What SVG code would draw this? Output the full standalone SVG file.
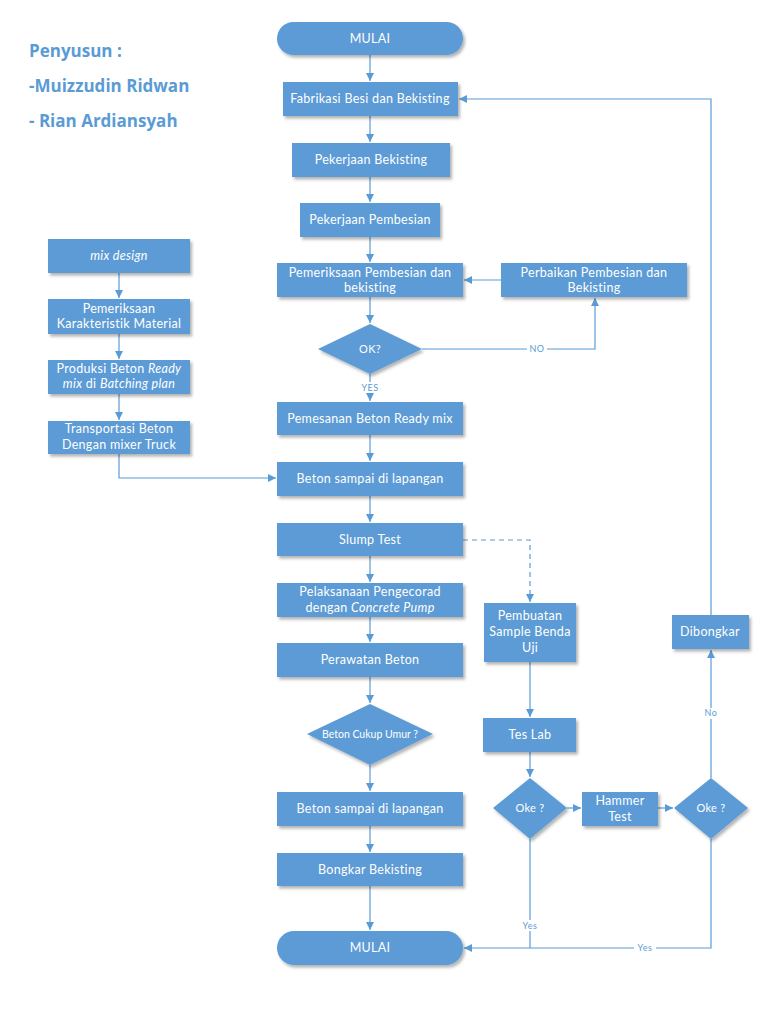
<svg xmlns="http://www.w3.org/2000/svg" width="768" height="1024" viewBox="0 0 768 1024">
<style>
.bx{fill:#5b9bd5;filter:url(#sh)}
.t{font-family:Lato,"Open Sans","Liberation Sans",sans-serif;font-size:12.5px;letter-spacing:0.3px;fill:#fff;text-anchor:middle}
.i{font-style:italic}
.ln{fill:none;stroke:#5b9bd5;stroke-width:1.2}
.dash{stroke-dasharray:5,4}
.lb{font-family:Lato,"Open Sans","Liberation Sans",sans-serif;font-size:9px;letter-spacing:0.5px;fill:#5b9bd5;text-anchor:middle}
.lbg{fill:#fff}
.hd{font-family:"Open Sans","Liberation Sans",sans-serif;font-size:17px;font-weight:bold;fill:#5b9bd5}
</style>
<defs>
<filter id="sh" x="-10%" y="-20%" width="125%" height="150%">
<feDropShadow dx="2" dy="2.5" stdDeviation="1.5" flood-color="#000" flood-opacity="0.3"/>
</filter>
<marker id="ar" viewBox="0 0 10 10" refX="10" refY="5" markerWidth="8" markerHeight="8" markerUnits="userSpaceOnUse" orient="auto">
<path d="M0,0 L10,5 L0,10 z" fill="#5b9bd5"/>
</marker>
</defs>
<rect width="768" height="1024" fill="#fff"/>

<g id="authors">
<text class="hd" x="29" y="57">Penyusun :</text>
<text class="hd" x="29" y="92">-Muizzudin Ridwan</text>
<text class="hd" x="29" y="127">- Rian Ardiansyah</text>
</g>

<g id="connectors">
<path class="ln" d="M370,55 V81" marker-end="url(#ar)"/>
<path class="ln" d="M370,116 V142" marker-end="url(#ar)"/>
<path class="ln" d="M370,177 V202" marker-end="url(#ar)"/>
<path class="ln" d="M370,237 V262" marker-end="url(#ar)"/>
<path class="ln" d="M370,297 V323" marker-end="url(#ar)"/>
<path class="ln" d="M370,374 V401" marker-end="url(#ar)"/>
<path class="ln" d="M422,349 H595 V298" marker-end="url(#ar)"/>
<path class="ln" d="M501,280 H464" marker-end="url(#ar)"/>
<path class="ln" d="M370,435 V461" marker-end="url(#ar)"/>
<path class="ln" d="M119,273 V298" marker-end="url(#ar)"/>
<path class="ln" d="M119,334 V359" marker-end="url(#ar)"/>
<path class="ln" d="M119,394 V420" marker-end="url(#ar)"/>
<path class="ln" d="M119,454 V478 H276" marker-end="url(#ar)"/>
<path class="ln" d="M370,496 V522" marker-end="url(#ar)"/>
<path class="ln" d="M370,556 V582" marker-end="url(#ar)"/>
<path class="ln" d="M370,617 V642" marker-end="url(#ar)"/>
<path class="ln" d="M370,677 V703" marker-end="url(#ar)"/>
<path class="ln" d="M370,765 V791" marker-end="url(#ar)"/>
<path class="ln" d="M370,826 V852" marker-end="url(#ar)"/>
<path class="ln" d="M370,886 V930" marker-end="url(#ar)"/>
<path class="ln dash" d="M463,540 H530 V602" marker-end="url(#ar)"/>
<path class="ln" d="M530,662 V717" marker-end="url(#ar)"/>
<path class="ln" d="M530,752 V777" marker-end="url(#ar)"/>
<path class="ln" d="M567,808 H581" marker-end="url(#ar)"/>
<path class="ln" d="M658,808 H673" marker-end="url(#ar)"/>
<path class="ln" d="M711,778 V650" marker-end="url(#ar)"/>
<path class="ln" d="M711,615 V99 H459" marker-end="url(#ar)"/>
<path class="ln" d="M530,839 V948"/>
<path class="ln" d="M711,839 V948 H464" marker-end="url(#ar)"/>
<rect class="lbg" x="361" y="382" width="18" height="11"/>
<text class="lb" x="370" y="391">YES</text>
<rect class="lbg" x="527" y="344" width="20" height="11"/>
<text class="lb" x="537" y="352">NO</text>
<rect class="lbg" x="702" y="708" width="18" height="11"/>
<text class="lb" x="711" y="716">No</text>
<rect class="lbg" x="519" y="920" width="22" height="11"/>
<text class="lb" x="530" y="929">Yes</text>
<rect class="lbg" x="634" y="943" width="22" height="11"/>
<text class="lb" x="645" y="951">Yes</text>
</g>

<g id="mulai1"><rect class="bx" x="277" y="22" width="186" height="33" rx="16.5"/><text class="t" x="370" y="43">MULAI</text></g>
<g id="fabrikasi"><rect class="bx" x="283" y="82" width="175" height="34"/><text class="t" x="370" y="103">Fabrikasi Besi dan Bekisting</text></g>
<g id="pek-bekisting"><rect class="bx" x="292" y="143" width="158" height="34"/><text class="t" x="371" y="164">Pekerjaan Bekisting</text></g>
<g id="pek-pembesian"><rect class="bx" x="300" y="203" width="140" height="34"/><text class="t" x="370" y="224">Pekerjaan Pembesian</text></g>
<g id="pemeriksaan"><rect class="bx" x="277" y="263" width="186" height="34"/><text class="t" x="370" y="277">Pemeriksaan Pembesian dan</text><text class="t" x="370" y="292">bekisting</text></g>
<g id="perbaikan"><rect class="bx" x="501" y="263" width="186" height="34"/><text class="t" x="594" y="277">Perbaikan Pembesian dan</text><text class="t" x="594" y="292">Bekisting</text></g>
<g id="ok"><path class="bx" d="M370,324 L422,349 L370,374 L318,349 z"/><text class="t" x="370" y="353" style="font-size:11px">OK?</text></g>
<g id="pemesanan"><rect class="bx" x="277" y="402" width="186" height="33"/><text class="t" x="370" y="423">Pemesanan Beton Ready mix</text></g>

<g id="mix-design"><rect class="bx" x="48" y="239" width="142" height="34"/><text class="t i" x="119" y="260">mix design</text></g>
<g id="karakteristik"><rect class="bx" x="48" y="299" width="142" height="35"/><text class="t" x="119" y="313">Pemeriksaan</text><text class="t" x="119" y="328">Karakteristik Material</text></g>
<g id="produksi"><rect class="bx" x="48" y="360" width="142" height="34"/><text class="t" x="119" y="373">Produksi Beton <tspan class="i">Ready</tspan></text><text class="t" x="119" y="388"><tspan class="i">mix</tspan> di <tspan class="i">Batching plan</tspan></text></g>
<g id="transportasi"><rect class="bx" x="48" y="421" width="142" height="33"/><text class="t" x="119" y="433">Transportasi Beton</text><text class="t" x="119" y="449">Dengan mixer Truck</text></g>

<g id="beton-sampai1"><rect class="bx" x="277" y="462" width="186" height="34"/><text class="t" x="370" y="483">Beton sampai di lapangan</text></g>
<g id="slump"><rect class="bx" x="277" y="523" width="186" height="33"/><text class="t" x="370" y="544">Slump Test</text></g>
<g id="pelaksanaan"><rect class="bx" x="277" y="583" width="186" height="34"/><text class="t" x="370" y="596">Pelaksanaan Pengecorad</text><text class="t" x="370" y="612">dengan <tspan class="i">Concrete Pump</tspan></text></g>
<g id="perawatan"><rect class="bx" x="277" y="643" width="186" height="34"/><text class="t" x="370" y="664">Perawatan Beton</text></g>
<g id="cukup-umur"><path class="bx" d="M370,704 L433,734 L370,765 L307,734 z"/><text class="t" x="370" y="738" style="font-size:10.5px;letter-spacing:0">Beton Cukup Umur ?</text></g>
<g id="beton-sampai2"><rect class="bx" x="277" y="792" width="186" height="34"/><text class="t" x="370" y="813">Beton sampai di lapangan</text></g>
<g id="bongkar"><rect class="bx" x="277" y="853" width="186" height="33"/><text class="t" x="370" y="874">Bongkar Bekisting</text></g>
<g id="mulai2"><rect class="bx" x="277" y="931" width="186" height="34" rx="17"/><text class="t" x="370" y="952">MULAI</text></g>

<g id="pembuatan"><rect class="bx" x="484" y="603" width="92" height="59"/><text class="t" x="530" y="620">Pembuatan</text><text class="t" x="530" y="636">Sample Benda</text><text class="t" x="530" y="652">Uji</text></g>
<g id="tes-lab"><rect class="bx" x="483" y="718" width="93" height="34"/><text class="t" x="530" y="739">Tes Lab</text></g>
<g id="oke1"><path class="bx" d="M530,778 L567,808 L530,839 L493,808 z"/><text class="t" x="530" y="812" style="font-size:11px">Oke ?</text></g>
<g id="hammer"><rect class="bx" x="582" y="792" width="76" height="34"/><text class="t" x="620" y="805">Hammer</text><text class="t" x="620" y="821">Test</text></g>
<g id="oke2"><path class="bx" d="M711,778 L748,808 L711,839 L674,808 z"/><text class="t" x="711" y="812" style="font-size:11px">Oke ?</text></g>
<g id="dibongkar"><rect class="bx" x="672" y="615" width="77" height="34"/><text class="t" x="710" y="636">Dibongkar</text></g>
</svg>
